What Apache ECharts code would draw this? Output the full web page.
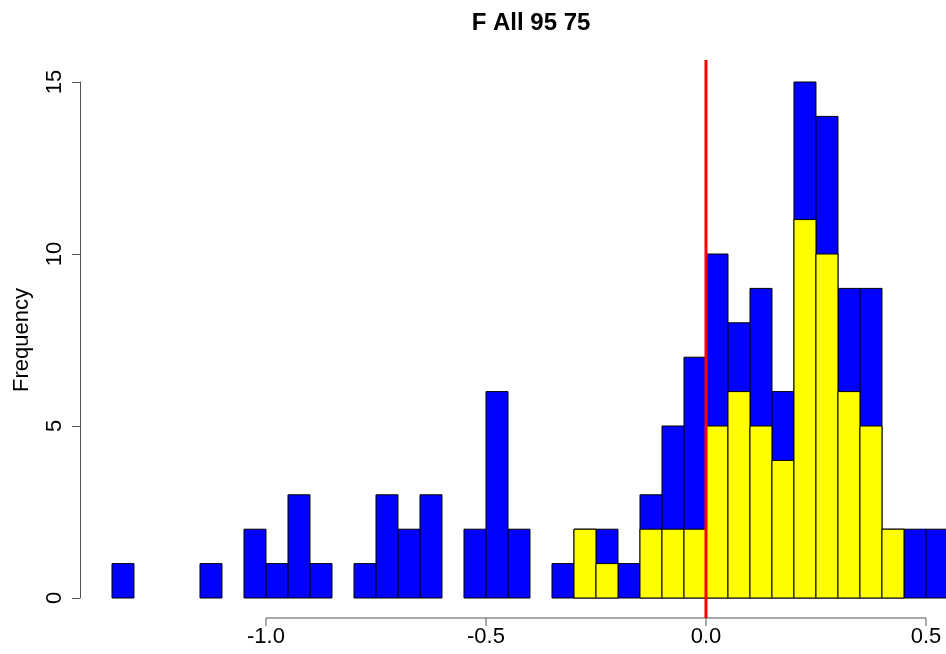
<!DOCTYPE html>
<html><head><meta charset="utf-8">
<script src="https://cdn.jsdelivr.net/npm/echarts@6/dist/echarts.min.js"></script>
<style>body{margin:0}#charts{width:946px;height:654px}</style></head>
<body><div id="charts"></div>
<script>
var binStart = [-1.35,-1.30,-1.25,-1.20,-1.15,-1.10,-1.05,-1.00,-0.95,-0.90,-0.85,-0.80,-0.75,-0.70,-0.65,-0.60,-0.55,-0.50,-0.45,-0.40,-0.35,-0.30,-0.25,-0.20,-0.15,-0.10,-0.05,0.00,0.05,0.10,0.15,0.20,0.25,0.30,0.35,0.40,0.45,0.50];
var allCounts = [1,0,0,0,1,0,2,1,3,1,0,1,3,2,3,0,2,6,2,0,1,2,2,1,3,5,7,10,8,9,6,15,14,9,9,2,2,2];
var subCounts = [0,0,0,0,0,0,0,0,0,0,0,0,0,0,0,0,0,0,0,0,0,2,1,0,2,2,2,5,6,5,4,11,10,6,5,2,0,0];
var binWidth = 0.05;
var xTicks = [-1.0, -0.5, 0.0, 0.5];

function histData(counts) {
    var d = [];
    for (var i = 0; i < counts.length; i++) {
        if (counts[i] > 0) d.push([binStart[i], binStart[i] + binWidth, counts[i]]);
    }
    return d;
}
function barRender(color) {
    return function (params, api) {
        var p0 = api.coord([api.value(0), 0]);
        var p1 = api.coord([api.value(1), api.value(2)]);
        return {
            type: 'rect',
            shape: { x: p0[0], y: p1[1], width: p1[0] - p0[0], height: p0[1] - p1[1] },
            style: { fill: color, stroke: '#000', lineWidth: 1 }
        };
    };
}

var myChart = echarts.init(document.getElementById('charts'));
var option = {
    animation: false,
    title: {
        text: 'F All 95 75', left: 526, top: 6, textAlign: 'center',
        textStyle: { fontFamily: 'Liberation Sans', fontSize: 24, fontWeight: 'bold', color: '#000' }
    },
    grid: { left: 112, right: 0, top: 82, bottom: 56, outerBoundsMode: 'none', containLabel: false },
    xAxis: {
        type: 'value', min: -1.35, max: 0.5455,
        splitLine: { show: false },
        axisLine: { show: false },
        axisTick: { show: false },
        axisLabel: { customValues: xTicks, margin: 28, color: '#000', fontSize: 22, fontFamily: 'Liberation Sans',
            formatter: function (v) { return v.toFixed(1); } }
    },
    yAxis: {
        type: 'value', min: 0, max: 15, interval: 5, offset: 32,
        name: 'Frequency', nameLocation: 'middle', nameGap: 47, nameRotate: 90,
        nameTextStyle: { color: '#000', fontSize: 22, fontFamily: 'Liberation Sans' },
        splitLine: { show: false },
        axisLine: { show: true, onZero: false, lineStyle: { color: '#555' } },
        axisTick: { show: true, length: 8, lineStyle: { color: '#555' } },
        axisLabel: { rotate: 90, margin: 14, color: '#000', fontSize: 22, fontFamily: 'Liberation Sans' }
    },
    series: [
        { type: 'custom', data: histData(allCounts), renderItem: barRender('#0000ff'), encode: { x: [0, 1], y: 2 } },
        { type: 'custom', data: histData(subCounts), renderItem: barRender('#ffff00'), encode: { x: [0, 1], y: 2 } },
        {
            type: 'custom', data: [[xTicks[0], xTicks[xTicks.length - 1]]], encode: { x: [0, 1] },
            renderItem: function (params, api) {
                var a = api.coord([api.value(0), 0]);
                var b = api.coord([api.value(1), 0]);
                var kids = [{ type: 'line', shape: { x1: a[0], y1: a[1] + 20, x2: b[0], y2: b[1] + 20 },
                    style: { stroke: '#555', lineWidth: 1 } }];
                xTicks.forEach(function (t) {
                    var p = api.coord([t, 0]);
                    kids.push({ type: 'line', shape: { x1: p[0], y1: p[1] + 20, x2: p[0], y2: p[1] + 28 },
                        style: { stroke: '#555', lineWidth: 1 } });
                });
                return { type: 'group', children: kids };
            }
        },
        {
            type: 'custom', data: [[0]], encode: { x: 0 }, z: 10,
            renderItem: function (params, api) {
                var a = api.coord([api.value(0), 0]);
                return { type: 'line', shape: { x1: a[0], y1: 60, x2: a[0], y2: a[1] + 20 },
                    style: { stroke: '#ff0000', lineWidth: 3 } };
            }
        }
    ]
};
myChart.setOption(option);
</script></body></html>
